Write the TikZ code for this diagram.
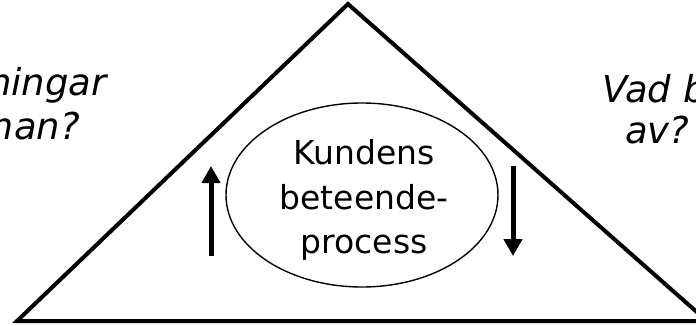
\documentclass[tikz,border=0pt]{standalone}
\usepackage{fontspec}
\setmainfont{DejaVu Sans}
\usetikzlibrary{arrows.meta}
\tikzset{
  tri/.style={line width=4pt, line join=miter},
  oval/.style={draw, line width=1.4pt},
  flow/.style={line width=5pt, -{Triangle[width=18pt,length=17pt]}},
  quest/.style={inner sep=0pt, font=\fontsize{37}{44}\selectfont\itshape},
  core/.style={inner sep=0pt, align=center, font=\fontsize{33}{44.5}\selectfont}
}
\begin{document}
\begin{tikzpicture}[x=1pt,y=-1pt]
\useasboundingbox (0,0) rectangle (696,325);
\coordinate (apex) at (348,4);
\coordinate (bl) at (17,321);
\coordinate (br) at (707,321);
\draw[tri] (bl) -- (apex) -- (br) -- cycle;
\draw[oval] (362,195) ellipse [x radius=136, y radius=92];
\node[core] (core) at (364,200) {Kundens\\beteende-\\process};
\node[quest, anchor=base east] (l1) at (107,95) {ningar};
\node[quest, anchor=base east] (l2) at (80,139) {man?};
\node[quest, anchor=base west] (r1) at (602,102) {Vad b};
\node[quest, anchor=base west] (r2) at (625,143) {av?};
\coordinate (upa) at (211,256);
\coordinate (upb) at (211,166);
\coordinate (dna) at (513,166);
\coordinate (dnb) at (513,256);
\draw[flow] (upa) -- (upb);
\draw[flow] (dna) -- (dnb);
\end{tikzpicture}
\end{document}
